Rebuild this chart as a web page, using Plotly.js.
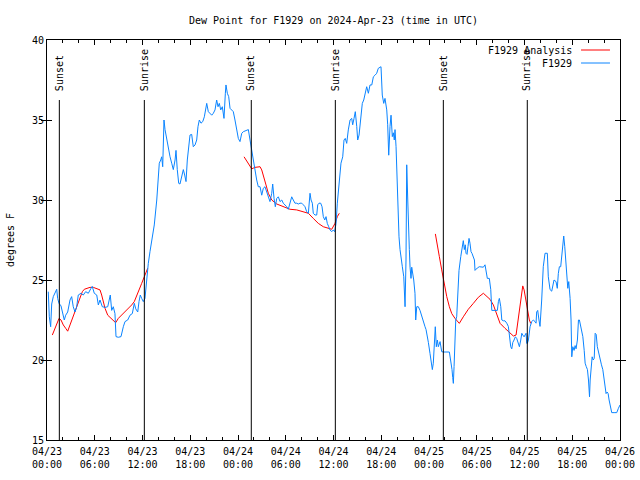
<!DOCTYPE html>
<html><head><meta charset="utf-8">
<script src="https://cdn.plot.ly/plotly-3.0.1.min.js"></script>
<style>html,body{margin:0;padding:0;background:#fff}</style>
</head><body><div id="chart" style="width:640px;height:480px"></div>
<script>
// hours after 2024-04-23 00:00 UTC
const obsHours = [0.16,0.29,0.46,0.59,0.79,1.01,1.22,1.34,1.51,1.76,1.92,2.17,2.35,2.60,2.89,3.10,3.30,3.52,3.73,3.93,4.27,4.56,4.86,5.19,5.53,5.69,5.94,6.25,6.45,6.66,6.95,7.29,7.63,7.79,7.95,8.13,8.33,8.54,8.67,8.96,9.30,9.59,9.80,10.14,10.43,10.72,10.97,11.15,11.40,11.56,11.72,11.90,12.10,12.31,12.53,12.73,12.94,13.16,13.36,13.48,13.79,13.99,14.11,14.29,14.41,14.54,14.70,14.83,15.04,15.24,15.46,15.67,15.87,16.09,16.21,16.37,16.55,16.71,16.93,17.13,17.30,17.47,17.63,17.81,17.97,18.18,18.38,18.60,18.81,18.97,19.14,19.35,19.57,19.77,19.94,20.07,20.27,20.48,20.70,20.90,21.11,21.32,21.49,21.65,21.83,22.03,22.24,22.41,22.49,22.66,22.83,23.00,23.21,23.41,23.62,23.84,24.04,24.25,24.47,24.67,25.01,25.30,25.51,25.72,25.92,26.14,26.35,26.55,26.77,26.98,27.18,27.39,27.61,27.81,28.02,28.24,28.36,28.53,28.69,28.87,29.07,29.28,29.50,29.69,29.91,30.12,30.32,30.54,30.75,30.95,31.16,31.38,31.58,31.79,32.01,32.21,32.42,32.63,32.84,33.05,33.18,33.34,33.46,33.68,33.89,34.02,34.18,34.39,34.56,34.72,34.90,35.06,35.22,35.40,35.56,35.78,35.98,36.15,36.32,36.48,36.66,36.82,36.94,37.16,37.32,37.48,37.66,37.86,38.08,38.29,38.41,38.58,38.74,38.92,39.04,39.21,39.46,39.62,39.80,39.96,40.17,40.38,40.59,40.81,41.01,41.22,41.43,41.63,41.85,41.97,42.13,42.31,42.47,42.69,42.81,42.94,43.10,43.23,43.39,43.52,43.64,43.73,43.86,43.98,44.11,44.23,44.36,44.49,44.65,44.83,44.90,44.99,45.11,45.20,45.33,45.40,45.53,45.62,45.74,45.83,45.95,46.08,46.24,46.33,46.46,46.66,46.87,47.09,47.29,47.50,47.63,47.79,47.92,48.13,48.26,48.42,48.54,48.67,48.79,48.92,49.05,49.17,49.35,49.39,49.60,49.80,50.56,50.73,50.89,50.98,51.06,51.15,51.23,51.36,51.48,51.61,51.77,51.99,52.11,52.24,52.31,52.44,52.56,52.65,52.78,52.90,53.03,53.15,53.28,53.40,53.57,53.71,53.78,53.91,54.07,54.32,54.63,54.83,55.04,55.17,55.33,55.58,55.76,55.89,56.09,56.59,56.72,56.84,57.02,57.15,57.35,57.55,57.77,57.97,58.10,58.27,58.40,58.53,58.69,58.85,59.02,59.19,59.36,59.53,59.66,59.78,59.95,60.07,60.20,60.28,60.36,60.49,60.62,60.70,60.91,61.11,61.32,61.45,61.53,61.66,61.82,61.95,62.16,62.36,62.58,62.87,62.99,63.21,63.42,63.54,63.71,63.96,64.12,64.25,64.38,64.55,64.68,64.80,64.93,65.06,65.18,65.31,65.44,65.56,65.73,65.85,65.94,66.07,66.23,66.36,66.48,66.65,66.78,66.90,67.03,67.16,67.33,67.50,67.62,67.75,67.91,68.04,68.17,68.25,68.38,68.50,68.63,68.76,68.88,69.01,69.15,69.33,69.49,69.67,69.84,70.01,70.16,70.25,70.38,70.51,70.63,70.76,70.96,71.26,71.59,71.80,72.00];
const obsDewPoint = [24.27,22.7,22.08,23.5,23.96,24.17,24.42,23.85,23.54,23.38,23.0,22.5,22.8,23.0,23.75,23.96,23.33,23.0,23.33,24.06,24.17,24.06,24.27,24.17,24.48,24.6,24.17,24.06,23.44,23.75,23.33,23.29,23.33,23.75,24.06,23.1,23.33,22.9,21.46,21.42,21.46,22.08,22.4,22.5,22.8,22.9,23.54,23.2,23.0,23.65,24.06,23.85,23.65,23.85,25.2,26.04,26.77,27.4,27.92,28.44,30.0,31.25,32.3,32.5,32.7,32.08,35.0,34.4,33.75,33.1,32.7,32.3,31.9,32.5,33.1,31.9,31.04,31.0,31.46,31.9,31.56,31.15,32.5,33.33,34.06,34.1,33.33,33.44,33.75,34.58,35.0,34.8,34.9,35.2,35.83,36.04,35.52,35.42,35.3,35.42,35.63,36.25,35.83,36.04,35.63,35.83,35.1,36.67,37.19,36.67,36.46,35.73,35.63,35.52,35.0,34.4,33.85,33.65,34.17,34.27,34.33,34.4,33.75,33.1,32.5,31.9,31.25,30.83,30.83,30.3,30.73,30.83,30.52,30.2,29.9,30.42,31.0,30.1,29.58,30.1,30.2,29.9,30.0,29.8,29.7,29.58,29.42,29.8,30.2,30.0,29.8,29.8,29.75,29.8,29.8,29.7,29.58,29.27,29.17,30.42,30.0,29.8,29.17,29.06,29.06,29.7,29.8,29.8,29.58,28.96,28.75,28.96,28.54,28.33,28.13,28.02,28.13,28.02,28.54,29.8,30.83,31.67,32.3,32.7,33.75,33.85,33.54,34.38,35.0,35.1,34.7,35.1,35.52,34.6,33.75,34.06,35.1,36.04,36.25,36.67,37.08,36.67,37.19,37.19,37.7,37.8,37.92,38.23,38.29,38.33,36.56,36.04,36.35,35.63,34.7,32.8,34.6,35.3,33.96,34.2,33.75,34.4,33.33,31.04,29.48,27.7,26.9,26.25,25.83,25.2,24.17,23.33,26.25,32.2,30.0,28.33,26.9,25.8,25.1,25.8,25.5,25.0,24.17,22.5,23.33,23.33,23.1,22.7,22.5,22.08,21.9,21.25,21.1,20.4,20.0,19.4,19.8,21.35,22.08,20.83,21.25,20.83,21.04,21.15,20.52,20.5,20.5,20.0,19.4,18.9,18.54,19.6,21.25,22.5,22.7,23.96,25.6,26.46,26.77,27.08,27.46,26.9,27.2,26.67,26.6,27.1,27.6,27.3,26.77,26.67,26.46,26.25,25.6,25.7,25.75,25.83,25.83,25.8,25.95,25.6,25.1,25.1,24.4,23.1,23.1,23.1,23.65,23.85,23.33,22.5,22.45,22.45,22.3,22.1,21.56,20.83,20.7,21.1,21.25,21.45,21.35,21.04,20.83,21.25,21.67,21.56,21.45,21.56,21.67,21.04,21.04,21.25,21.67,22.08,22.4,22.5,22.4,22.3,23.0,23.1,22.5,22.1,23.75,25.83,26.67,26.67,25.2,24.4,24.3,24.7,25.0,24.9,24.48,25.4,25.83,25.83,26.67,27.2,27.75,27.08,26.04,25.1,24.48,24.9,23.85,22.5,20.2,20.83,20.6,20.9,20.7,21.25,22.5,22.5,22.2,22.0,21.46,20.6,19.8,19.6,19.4,18.75,17.7,18.75,19.6,20.2,20.0,20.1,21.67,21.6,20.83,20.4,20.0,19.7,19.4,18.75,18.13,17.9,18.0,17.9,17.5,17.2,16.71,16.71,16.71,16.98,17.19];
const anaHours = [0.67,1.01,1.34,1.51,1.76,2.05,2.35,2.60,2.89,3.18,3.52,3.86,4.15,4.44,4.69,4.99,5.40,5.82,6.25,6.66,6.87,7.07,7.29,7.63,7.92,8.33,8.63,8.96,9.39,9.80,10.22,10.64,10.97,11.27,11.56,11.90,12.23,12.44,12.65,
  null,
  24.76,25.30,25.72,26.14,26.77,26.98,27.18,27.52,27.81,28.24,28.87,29.69,30.54,31.38,32.21,32.84,33.46,34.09,34.72,35.35,35.78,36.19,36.48,36.73,
  null,
  48.80,49.05,49.30,49.60,49.89,50.23,50.56,50.86,51.27,51.81,52.31,52.94,53.57,54.20,54.83,55.26,55.67,56.09,56.51,56.93,57.55,58.18,58.60,58.94,59.15,59.35,59.56,59.78,59.95,60.19,60.36,60.61,60.78];
const anaDewPoint = [21.56,21.98,22.33,22.6,22.5,22.19,21.98,21.8,22.19,22.6,23.0,23.44,23.96,24.27,24.42,24.48,24.54,24.54,24.48,24.38,24.06,23.65,23.23,22.8,22.67,22.5,22.33,22.6,22.8,23.0,23.23,23.44,23.65,24.06,24.38,24.79,25.21,25.52,25.73,
  null,
  32.7,32.3,31.95,32.04,32.08,31.88,31.46,30.94,30.42,30.0,29.75,29.58,29.42,29.38,29.27,29.17,28.85,28.54,28.33,28.23,28.17,28.54,28.96,29.17,
  null,
  27.88,27.08,26.46,25.63,24.79,23.96,23.33,22.9,22.6,22.29,22.7,23.17,23.54,23.92,24.17,23.96,23.79,23.44,22.8,22.29,21.98,21.67,21.5,21.56,22.29,23.13,23.96,24.63,24.38,23.75,23.13,22.5,22.29];
const sunHours = [1.55, 12.23, 25.67, 36.23, 49.80, 60.35];
const sunLabels = ["Sunset","Sunrise","Sunset","Sunrise","Sunset","Sunrise"];
const tickHours = [0,6,12,18,24,30,36,42,48,54,60,66,72];
const tickDates = ["04/23","04/23","04/23","04/23","04/24","04/24","04/24","04/24","04/25","04/25","04/25","04/25","04/26"];
const tickTimes = ["00:00","06:00","12:00","18:00","00:00","06:00","12:00","18:00","00:00","06:00","12:00","18:00","00:00"];
const seriesNames = ["F1929 Analysis","F1929"];
const seriesColors = ["#ff0000","#0a84ff"];

const base = Date.UTC(2024,3,23,0,0,0);
const toT = h => h === null ? null : base + h*3600000;
const FONT = "DejaVu Sans Mono, Liberation Mono, monospace";
const tfont = {family:FONT, size:10, color:'#000'};

const traces = [
  {x: anaHours.map(toT), y: anaDewPoint, type:'scatter', mode:'lines', name: seriesNames[0],
   line:{color:seriesColors[0], width:1}, connectgaps:false, showlegend:false, hoverinfo:'skip'},
  {x: obsHours.map(toT), y: obsDewPoint, type:'scatter', mode:'lines', name: seriesNames[1],
   line:{color:seriesColors[1], width:1}, showlegend:false, hoverinfo:'skip'}
];

const shapes = sunHours.map(h => ({type:'line', xref:'x', yref:'y', x0:toT(h), x1:toT(h), y0:15, y1:36.25,
  line:{color:'#000', width:1}}));
const annotations = sunHours.map((h,i) => ({xref:'x', yref:'y', x:toT(h), y:36.7, text:sunLabels[i],
  textangle:-90, showarrow:false, xanchor:'center', yanchor:'bottom', font:tfont}));

// legend (gnuplot style: text then line sample, top right)
const legY = [0.975, 0.9425];
seriesNames.forEach((n,i) => {
  annotations.push({xref:'paper', yref:'paper', x:0.9197, y:legY[i], text:n, showarrow:false,
    xanchor:'right', yanchor:'middle', font:tfont});
  shapes.push({type:'line', xref:'paper', yref:'paper', x0:0.932, x1:0.9825, y0:legY[i], y1:legY[i],
    line:{color:seriesColors[i], width:1}});
});

const layout = {
  width:640, height:480, margin:{l:47, r:20, t:40, b:40},
  paper_bgcolor:'#fff', plot_bgcolor:'#fff',
  font:tfont,
  title:{text:'Dew Point for F1929 on 2024-Apr-23 (time in UTC)', x:0.5, xref:'paper', y:1-20/480, yref:'container', yanchor:'middle',
    font:tfont},
  xaxis:{type:'date', range:[toT(0), toT(72)], tickmode:'array', tickvals: tickHours.map(toT), ticktext: tickDates,
    ticks:'inside', ticklen:5, tickcolor:'#000', showline:true, linecolor:'#000', linewidth:1, mirror:'allticks',
    showgrid:false, zeroline:false, ticklabelstandoff:2,
    minor:{dtick:2*3600000, tick0:toT(0), ticks:'inside', ticklen:3, tickcolor:'#000', showgrid:false},
    tickfont:tfont},
  xaxis2:{type:'date', overlaying:'x', anchor:'y', side:'bottom', matches:'x', range:[toT(0), toT(72)],
    tickmode:'array', tickvals: tickHours.map(toT), ticktext: tickTimes, ticks:'', showline:false,
    showgrid:false, zeroline:false, ticklabelstandoff:17, tickfont:tfont},
  yaxis:{range:[15,40], tick0:15, dtick:5, ticks:'inside', ticklen:5, tickcolor:'#000', showline:true, linecolor:'#000', linewidth:1,
    mirror:'allticks', showgrid:false, zeroline:false, tickfont:tfont,
    title:{text:'degrees F', font:tfont, standoff:15}},
  shapes: shapes, annotations: annotations, showlegend:false
};
// invisible helper trace so the second (time-of-day) label axis is drawn
traces.push({x:[toT(0)], y:[null], xaxis:'x2', yaxis:'y', type:'scatter', mode:'lines', showlegend:false, hoverinfo:'skip'});
Plotly.newPlot('chart', traces, layout, {staticPlot:true, displayModeBar:false});
</script></body></html>
